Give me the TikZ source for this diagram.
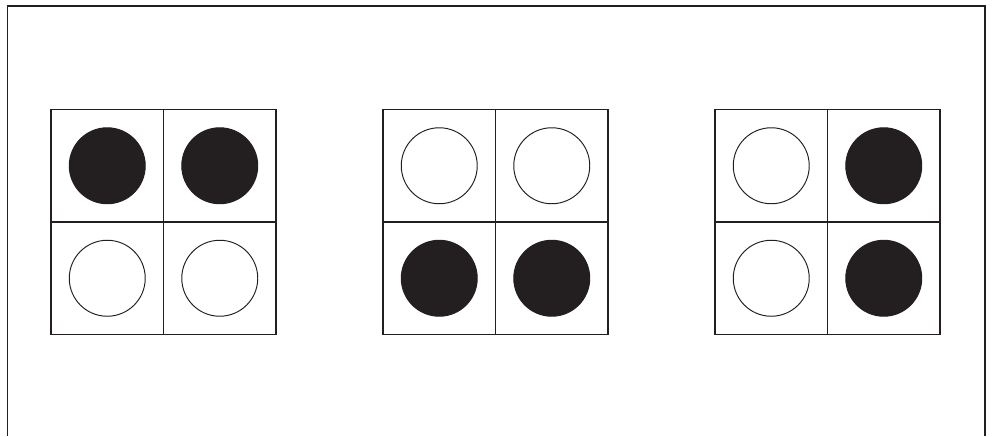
\documentclass[tikz,border=0pt]{standalone}
\usepackage{xcolor}
\usepackage{tikz}
\definecolor{ink}{HTML}{231F20}

\begin{document}
\begin{tikzpicture}[x=0.02cm, y=-0.02cm,
    cell/.style={rectangle, draw=ink, line width=0.75pt, minimum size=2.25cm, inner sep=0pt, outer sep=0pt},
    full/.style={circle, draw=ink, fill=ink, line width=0.55pt, minimum size=1.52cm, inner sep=0pt},
    empty/.style={circle, draw=ink, fill=white, line width=0.55pt, minimum size=1.52cm, inner sep=0pt}]

    \useasboundingbox (0,0) rectangle (993,436);

    % Frame (open at the bottom)
    \coordinate (FBL) at (7.5,436);
    \coordinate (FTL) at (7.5,6);
    \coordinate (FTR) at (985,6);
    \coordinate (FBR) at (985,436);
    \draw[ink, line width=0.75pt] (FBL) -- (FTL) -- (FTR) -- (FBR);

    % Grid 1: top full, bottom empty
    \node[cell] (A11) at (107.25,165.75) {};
    \node[cell] (A12) at (219.75,165.75) {};
    \node[cell] (A21) at (107.25,278.25) {};
    \node[cell] (A22) at (219.75,278.25) {};
    \node[full] (a11) at (A11) {};
    \node[full] (a12) at (A12) {};
    \node[empty] (a21) at (A21) {};
    \node[empty] (a22) at (A22) {};

    % Grid 2: top empty, bottom full
    \node[cell] (B11) at (439.25,165.75) {};
    \node[cell] (B12) at (551.75,165.75) {};
    \node[cell] (B21) at (439.25,278.25) {};
    \node[cell] (B22) at (551.75,278.25) {};
    \node[empty] (b11) at (B11) {};
    \node[empty] (b12) at (B12) {};
    \node[full] (b21) at (B21) {};
    \node[full] (b22) at (B22) {};

    % Grid 3: left empty, right full
    \node[cell] (C11) at (771.25,165.75) {};
    \node[cell] (C12) at (883.75,165.75) {};
    \node[cell] (C21) at (771.25,278.25) {};
    \node[cell] (C22) at (883.75,278.25) {};
    \node[empty] (c11) at (C11) {};
    \node[full] (c12) at (C12) {};
    \node[empty] (c21) at (C21) {};
    \node[full] (c22) at (C22) {};
\end{tikzpicture}
\end{document}
